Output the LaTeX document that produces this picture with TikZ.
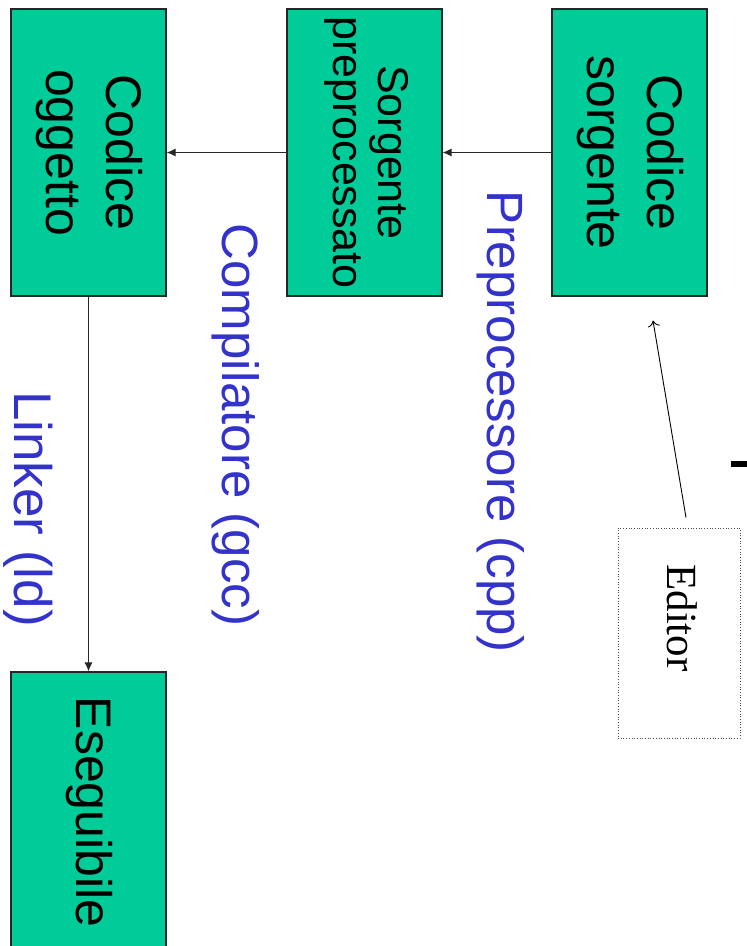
\documentclass[tikz,border=0pt]{standalone}
\usepackage{fontspec}
\usepackage{graphicx}
\setmainfont{Liberation Sans}
\newfontfamily\edserif{Liberation Serif}
\usetikzlibrary{arrows.meta}
\definecolor{boxgreen}{HTML}{00CC99}
\definecolor{lblblue}{HTML}{3333CC}
\newcommand{\rottext}[1]{\rotatebox{-90}{\begin{tabular}{@{}c@{}}#1\end{tabular}}}
\begin{document}
\begin{tikzpicture}[x=1pt,y=-1pt,
  stagebox/.style={draw=black!85, line width=1.2pt, fill=boxgreen, inner sep=0pt,
    minimum width=155pt, minimum height=287pt, font=\fontsize{50}{60}\selectfont},
  steplabel/.style={text=lblblue, rotate=-90, inner sep=0pt, font=\fontsize{51}{60}\selectfont},
  flow/.style={draw=black!85, line width=1pt, -{Latex[length=9pt,width=8pt]}},
  edflow/.style={draw=black, line width=0.9pt, -{To[length=6pt,width=12pt]}},
  edbox/.style={draw=black!70, dotted, line width=0.7pt, inner sep=0pt,
    minimum width=122pt, minimum height=210pt},
  edtext/.style={inner sep=0pt, font=\edserif\fontsize{43}{48}\selectfont}
]
\useasboundingbox (0,0) rectangle (747,946);
% stage boxes
\node[stagebox] (src) at (629.5,152.5) {\rottext{Codice\\sorgente}};
\node[stagebox, font=\fontsize{43}{45}\selectfont] (pre) at (364.5,152.5) {\rottext{Sorgente\\preprocessato}};
\node[stagebox] (obj) at (88.5,152.5) {\rottext{Codice\\oggetto}};
\node[stagebox, minimum height=280pt] (exe) at (88.5,812) {\rottext{Eseguibile}};
% editor
\node[edbox] (ed) at (679,633) {};
\node[edtext] (edlbl) at (682,618) {\rotatebox{-90}{Editor}};
% labels
\node[steplabel] (lpre) at (501,422) {Preprocessore (cpp)};
\node[steplabel] (lcomp) at (236,425) {Compilatore (gcc)};
\node[steplabel, font=\fontsize{53}{60}\selectfont] (llink) at (28,509) {Linker (ld)};
% connectors
\draw[flow] (src.west) -- (pre.east);
\draw[flow] (pre.west) -- (obj.east);
\draw[flow] (obj.south) -- (exe.north);
\coordinate (edstart) at ([xshift=7pt,yshift=10pt]ed.north);
\coordinate (edend) at ([xshift=23.5pt,yshift=-24pt]src.south);
\draw[edflow] (edstart) -- (edend);
% cut-off mark at the right edge
\fill[black] (731,461) rectangle (747,467);
\end{tikzpicture}
\end{document}
